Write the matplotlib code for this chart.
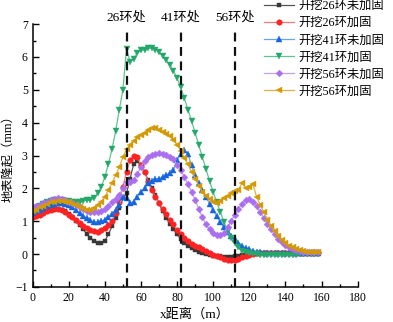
import numpy as np
import matplotlib
matplotlib.use('Agg')
import matplotlib.pyplot as plt
from matplotlib.ticker import MultipleLocator

plt.rcParams['font.family'] = ['Liberation Serif', 'Noto Sans CJK SC']
plt.rcParams['axes.unicode_minus'] = True

# distance along the section (m)
x = np.arange(0, 160, 2)

# surface heave (mm)
ex26 = [1.15, 1.2, 1.25, 1.3, 1.35, 1.38, 1.4, 1.38, 1.35, 1.3,
        1.22, 1.12, 1.0, 0.88, 0.75, 0.62, 0.5, 0.4, 0.33, 0.33,
        0.4, 0.6, 0.85, 1.1, 1.4, 1.7, 1.85, 2.3, 2.75, 2.82,
        2.72, 2.5, 2.25, 2.02, 1.8, 1.55, 1.3, 1.1, 0.92, 0.75,
        0.6, 0.46, 0.35, 0.26, 0.18, 0.12, 0.06, 0.02, -0.01, -0.03,
        -0.05, -0.06, -0.07, -0.08, -0.08, -0.08, -0.07, -0.05, -0.03, -0.01,
        0.0, 0.01, 0.01, 0.02, 0.02, 0.02, 0.02, 0.02, 0.02, 0.02,
        0.02, 0.02, 0.02, 0.02, 0.02, 0.02, 0.02, 0.02, 0.02, 0.02]
ex26_r = [1.12, 1.15, 1.2, 1.25, 1.3, 1.35, 1.38, 1.37, 1.33, 1.27,
          1.2, 1.12, 1.03, 0.95, 0.86, 0.78, 0.72, 0.69, 0.68, 0.72,
          0.78, 0.88, 1.0, 1.25, 1.6, 2.05, 2.5, 2.85, 3.0, 2.95,
          2.72, 2.5, 2.2, 1.95, 1.75, 1.55, 1.38, 1.22, 1.05, 0.9,
          0.72, 0.6, 0.5, 0.4, 0.32, 0.25, 0.2, 0.14, 0.08, 0.03,
          -0.02, -0.07, -0.1, -0.14, -0.17, -0.19, -0.18, -0.15, -0.1, -0.05,
          -0.02, 0.0, 0.02, 0.03, 0.02, 0.04, 0.03, 0.04, 0.03, 0.04,
          0.03, 0.04, 0.03, 0.03, 0.03, 0.03, 0.03, 0.03, 0.03, 0.03]
ex41 = [1.25, 1.3, 1.35, 1.4, 1.45, 1.5, 1.53, 1.55, 1.55, 1.52,
        1.48, 1.42, 1.33, 1.25, 1.17, 1.1, 1.03, 0.98, 0.97, 1.0,
        1.05, 1.13, 1.22, 1.35, 1.5, 1.75, 1.72, 1.55, 1.6, 1.75,
        1.9, 2.0, 2.15, 2.22, 2.28, 2.3, 2.35, 2.4, 2.48, 2.55,
        2.85, 3.05, 3.17, 3.05, 2.7, 2.4, 2.15, 1.95, 1.75, 1.52,
        1.33, 1.15, 0.97, 0.82, 0.68, 0.55, 0.45, 0.35, 0.26, 0.19,
        0.14, 0.1, 0.07, 0.05, 0.04, 0.03, 0.03, 0.03, 0.03, 0.03,
        0.03, 0.03, 0.03, 0.03, 0.03, 0.03, 0.03, 0.03, 0.03, 0.03]
ex41_r = [1.35, 1.4, 1.45, 1.52, 1.57, 1.62, 1.65, 1.66, 1.65, 1.63,
          1.62, 1.6, 1.6, 1.6, 1.62, 1.64, 1.64, 1.7, 1.85, 2.04,
          2.35, 2.75, 3.2, 3.75, 4.4, 5.0, 6.25, 5.85, 5.95, 6.12,
          6.2, 6.22, 6.27, 6.27, 6.22, 6.15, 6.02, 5.9, 5.75, 5.58,
          5.35, 5.08, 4.75, 4.4, 4.05, 3.7, 3.32, 2.95, 2.6, 2.22,
          1.89, 1.58, 1.28, 0.98, 0.7, 0.48, 0.33, 0.2, 0.1, 0.05,
          0.02, 0.0, -0.01, -0.02, -0.03, -0.03, -0.04, -0.04, -0.04, -0.04,
          -0.03, -0.03, -0.02, -0.02, -0.01, -0.01, 0.0, 0.0, 0.0, 0.0]
ex56 = [1.4, 1.45, 1.5, 1.55, 1.6, 1.65, 1.68, 1.7, 1.68, 1.65,
        1.6, 1.55, 1.5, 1.43, 1.37, 1.32, 1.29, 1.28, 1.29, 1.32,
        1.38, 1.47, 1.57, 1.68, 1.8, 2.0, 2.2, 2.2, 2.25, 2.45,
        2.65, 2.82, 2.95, 3.03, 3.06, 3.07, 3.06, 3.02, 2.95, 2.88,
        2.72, 2.55, 2.35, 2.12, 1.9, 1.65, 1.38, 1.12, 0.9, 0.75,
        0.63, 0.57, 0.57, 0.65, 0.82, 1.02, 1.2, 1.38, 1.53, 1.64,
        1.67, 1.6, 1.45, 1.28, 1.1, 0.92, 0.75, 0.6, 0.47, 0.36,
        0.28, 0.21, 0.16, 0.12, 0.09, 0.07, 0.06, 0.05, 0.05, 0.05]
ex56_r = [1.3, 1.35, 1.42, 1.47, 1.52, 1.57, 1.6, 1.62, 1.62, 1.6,
          1.57, 1.53, 1.48, 1.43, 1.38, 1.34, 1.35, 1.4, 1.48, 1.6,
          1.74, 1.95, 2.17, 2.4, 2.65, 2.95, 3.2, 3.32, 3.45, 3.55,
          3.63, 3.7, 3.78, 3.83, 3.84, 3.78, 3.72, 3.67, 3.6, 3.48,
          3.33, 3.15, 2.92, 2.73, 2.5, 2.3, 2.08, 1.9, 1.77, 1.67,
          1.58, 1.55, 1.62, 1.7, 1.78, 1.85, 1.92, 1.95, 2.17, 2.0,
          2.05, 2.13, 1.75, 1.5, 1.28, 1.05, 0.85, 0.7, 0.55, 0.43,
          0.33, 0.26, 0.2, 0.15, 0.12, 0.09, 0.07, 0.06, 0.05, 0.05]

labels = ['开挖26环未加固', '开挖26环加固', '开挖41环未加固',
          '开挖41环加固', '开挖56环未加固', '开挖56环加固']
ring_x = [52, 82, 112]
ring_labels = ['26环处', '41环处', '56环处']

series = [ex26, ex26_r, ex41, ex41_r, ex56, ex56_r]
line_cols = ['#555555', '#f27a7a', '#6aa3ee', '#5cc690', '#c3a0f2', '#e0b040']
mark_cols = ['#383838', '#ff2222', '#1565e0', '#23a86a', '#aa6ef0', '#d49a06']
markers = ['s', 'o', '^', 'v', 'D', '<']
msizes = [3.5, 4, 4.5, 4.5, 3.5, 4.5]

fig = plt.figure(figsize=(3.93, 3.22), dpi=100)
ax = fig.add_axes([0.083, 0.109, 0.827, 0.816])

for ys, lab, lc, mc, mk, ms in zip(series, labels, line_cols, mark_cols, markers, msizes):
    ax.plot(x, ys, color=lc, lw=0.9, marker=mk, ms=ms,
            markerfacecolor=mc, markeredgecolor=mc, markeredgewidth=0.3, label=lab)

for rx, rl in zip(ring_x, ring_labels):
    ax.plot([rx, rx], [-1, 6.75], color='#111111', lw=1.6,
            linestyle=(0, (4, 2.5)), zorder=5)
    ax.text(rx, 7.2, rl, ha='center', va='center', fontsize=9.5, clip_on=False)

ax.set_xlim(0, 180)
ax.set_ylim(-1, 7)
ax.xaxis.set_major_locator(MultipleLocator(20))
ax.xaxis.set_minor_locator(MultipleLocator(10))
ax.yaxis.set_major_locator(MultipleLocator(1))
ax.yaxis.set_minor_locator(MultipleLocator(0.5))
ax.tick_params(which='both', direction='in', labelsize=8.5, width=1)
ax.tick_params(which='major', length=4)
ax.tick_params(which='minor', length=2)
ax.spines['top'].set_visible(False)
ax.spines['right'].set_visible(False)
ax.spines['left'].set_linewidth(1.1)
ax.spines['bottom'].set_linewidth(1.1)

ax.set_xlabel('x距离（m）', fontsize=9.5, labelpad=3)
ax.set_ylabel('地表隆起（mm）', fontsize=8.8)
ax.yaxis.set_label_coords(-0.058, 0.5)

fig.legend(loc='upper left', bbox_to_anchor=(0.66, 1.015), frameon=False,
           fontsize=8.8, handlelength=2.4, handletextpad=0.35,
           labelspacing=0.42, borderaxespad=0)

fig.savefig('out.png', dpi=100)
